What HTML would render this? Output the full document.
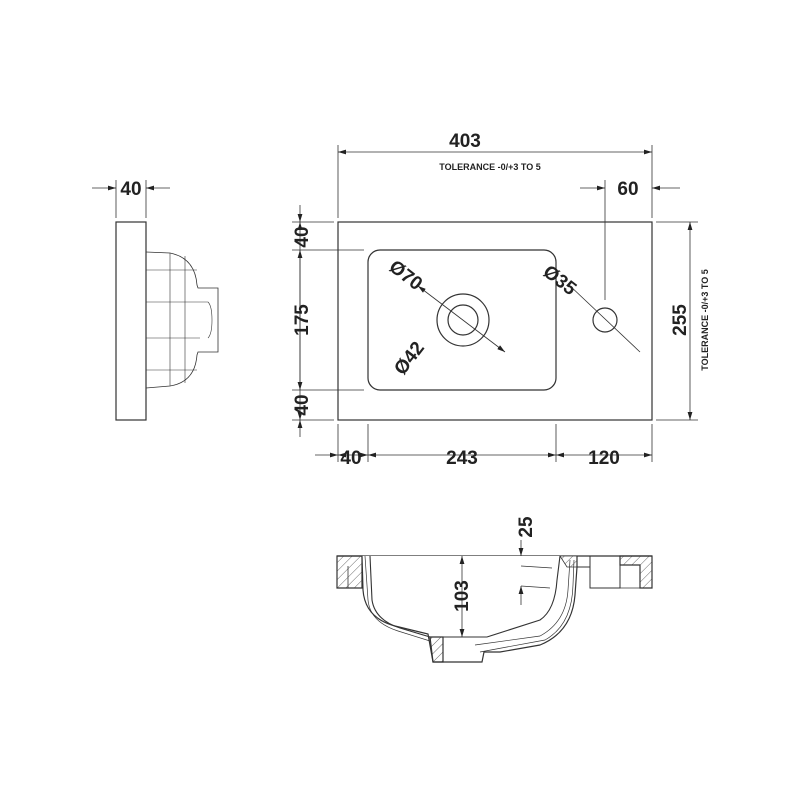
<!DOCTYPE html>
<html><head><style>body{margin:0;background:#fff}svg{display:block}text{font-family:"Liberation Sans",sans-serif;font-weight:bold;fill:#222}</style></head><body>
<svg width="800" height="800" viewBox="0 0 800 800" xmlns="http://www.w3.org/2000/svg">
<defs>
<marker id="a" markerWidth="10" markerHeight="6" refX="10" refY="3" orient="auto-start-reverse"><path d="M0,0L10,3L0,6z" fill="#222"/></marker>
<pattern id="h" width="6" height="6" patternUnits="userSpaceOnUse" patternTransform="rotate(45)"><line x1="0" y1="0" x2="0" y2="6" stroke="#444" stroke-width="0.8"/></pattern>
</defs>
<g stroke="#333" fill="none" stroke-width="1.2">
<!-- side view -->
<rect x="116" y="222" width="30" height="198"/>
<path d="M146,252 L170,253 Q195,258 197,285 L198,288 L218,288 L218,352 L198,352 L197,355 Q195,382 170,386 L146,388" stroke-width="0.8"/>
<path d="M170,253 L170,386 M185,256 L185,383 M146,270 L197,270 M146,302 L200,302 M146,338 L200,338 M146,370 L197,370 M172,302 L208,302 Q212,306 212,320 Q212,334 208,338" stroke-width="0.6"/>
<line x1="116" y1="180" x2="116" y2="218" stroke-width="0.8"/><line x1="146" y1="180" x2="146" y2="218" stroke-width="0.8"/>
<line x1="92" y1="188" x2="116" y2="188" marker-end="url(#a)" stroke-width="0.8"/><line x1="170" y1="188" x2="146" y2="188" marker-end="url(#a)" stroke-width="0.8"/>
<!-- top view -->
<rect x="338" y="222" width="314" height="198"/>
<rect x="368" y="250" width="188" height="140" rx="12"/>
<circle cx="463" cy="320" r="26"/><circle cx="463" cy="320" r="15"/>
<line x1="418" y1="286" x2="505" y2="352" stroke-width="0.8" marker-start="url(#a)" marker-end="url(#a)"/>
<circle cx="605" cy="320" r="12"/>
<line x1="568" y1="284" x2="640" y2="352" stroke-width="0.8"/>
<g stroke-width="0.8">
<line x1="338" y1="145" x2="338" y2="218"/><line x1="652" y1="145" x2="652" y2="218"/>
<line x1="338" y1="152" x2="652" y2="152" marker-start="url(#a)" marker-end="url(#a)"/>
<line x1="605" y1="180" x2="605" y2="300"/>
<line x1="580" y1="188" x2="605" y2="188" marker-end="url(#a)"/><line x1="680" y1="188" x2="652" y2="188" marker-end="url(#a)"/>
<line x1="292" y1="222" x2="334" y2="222"/><line x1="292" y1="250" x2="364" y2="250"/><line x1="292" y1="390" x2="364" y2="390"/><line x1="292" y1="420" x2="334" y2="420"/>
<line x1="300" y1="205" x2="300" y2="222" marker-end="url(#a)"/>
<line x1="300" y1="222" x2="300" y2="420" marker-start="url(#a)" marker-end="url(#a)"/>
<line x1="300" y1="437" x2="300" y2="420" marker-end="url(#a)"/>
<line x1="300" y1="250" x2="300" y2="390" marker-start="url(#a)" marker-end="url(#a)"/>
<line x1="656" y1="222" x2="698" y2="222"/><line x1="656" y1="420" x2="698" y2="420"/>
<line x1="690" y1="222" x2="690" y2="420" marker-start="url(#a)" marker-end="url(#a)"/>
<line x1="338" y1="424" x2="338" y2="462"/><line x1="368" y1="424" x2="368" y2="462"/><line x1="556" y1="424" x2="556" y2="462"/><line x1="652" y1="424" x2="652" y2="462"/>
<line x1="315" y1="455" x2="338" y2="455" marker-end="url(#a)"/>
<line x1="338" y1="455" x2="368" y2="455" marker-start="url(#a)" marker-end="url(#a)"/>
<line x1="368" y1="455" x2="556" y2="455" marker-start="url(#a)" marker-end="url(#a)"/>
<line x1="556" y1="455" x2="652" y2="455" marker-start="url(#a)" marker-end="url(#a)"/>
</g>
<!-- section -->
<line x1="337" y1="556" x2="652" y2="556"/>
<path d="M337,556 L362,556 L362,588 L337,588 Z" fill="url(#h)"/>
<path d="M348,566 L348,588 L337,588" stroke-width="0.8"/>
<!-- outer shell -->
<path d="M362,556 L363,590 Q365,618 395,626 L428,634 L433,662 L482,662 L484,652 L500,652 L540,645 Q572,632 575,595 L577,567 L577,556" fill="#fff"/>
<path d="M370,556 L372,600 Q375,620 400,628 L430,637 L487,637 L540,620 Q555,610 557,580 L560,556" stroke-width="1.1"/>
<path d="M365,556 L368,600 Q370,622 398,631 L430,641" stroke-width="0.7"/>
<path d="M430,637 L433,662 L443,662 L443,637 Z" fill="url(#h)"/>
<path d="M475,645 L540,636 Q566,622 568,590 L570,560 M480,652 L545,640 Q572,625 573,585 L574,560" stroke-width="0.7"/>
<path d="M560,556 L577,556 L577,567 L567,567 Z" fill="url(#h)" stroke-width="0.8"/>
<path d="M577,567 L590,567 L590,588 L620,588 L620,556 M590,556 L590,567" stroke-width="1"/>
<path d="M620,556 L652,556 L652,588 L640,588 L640,565 L620,565 Z" fill="url(#h)"/>
<path d="M620,565 L620,588 L640,588" stroke-width="0.8"/>
<g stroke-width="0.8">
<line x1="462" y1="556" x2="462" y2="637" marker-start="url(#a)" marker-end="url(#a)"/>
<line x1="521" y1="540" x2="521" y2="556" marker-end="url(#a)"/>
<line x1="521" y1="605" x2="521" y2="586" marker-end="url(#a)"/>
<line x1="521" y1="566" x2="552" y2="568"/><line x1="521" y1="586" x2="550" y2="588"/>
</g>
</g>
<g font-size="19">
<text x="131" y="195" text-anchor="middle">40</text>
<text x="465" y="147" text-anchor="middle">403</text>
<text x="628" y="195" text-anchor="middle">60</text>
<text x="351" y="464" text-anchor="middle">40</text>
<text x="462" y="464" text-anchor="middle">243</text>
<text x="604" y="464" text-anchor="middle">120</text>
<text transform="translate(308,237) rotate(-90)" text-anchor="middle">40</text>
<text transform="translate(308,320) rotate(-90)" text-anchor="middle">175</text>
<text transform="translate(308,405) rotate(-90)" text-anchor="middle">40</text>
<text transform="translate(686,320) rotate(-90)" text-anchor="middle">255</text>
<text transform="translate(468,596) rotate(-90)" text-anchor="middle">103</text>
<text transform="translate(532,527) rotate(-90)" text-anchor="middle">25</text>
<text transform="translate(402,280) rotate(38)" text-anchor="middle">Ø70</text>
<text transform="translate(414,362) rotate(-52)" text-anchor="middle">Ø42</text>
<text transform="translate(556,285) rotate(38)" text-anchor="middle">Ø35</text>
</g>
<g font-size="9">
<text x="490" y="170" text-anchor="middle">TOLERANCE -0/+3 TO 5</text>
<text transform="translate(708,320) rotate(-90)" text-anchor="middle">TOLERANCE -0/+3 TO 5</text>
</g>
</svg>
</body></html>
